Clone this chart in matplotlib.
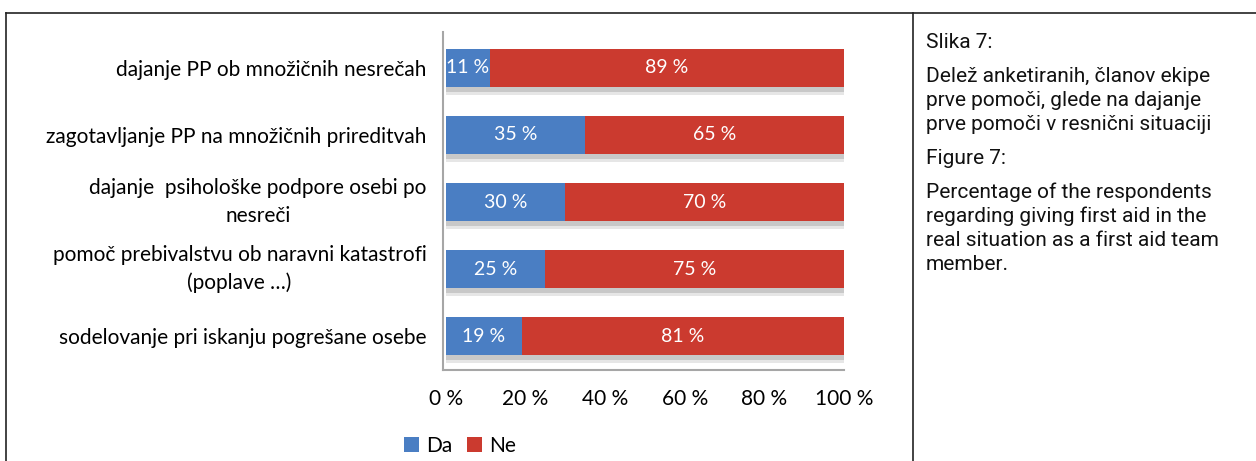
import numpy as np
import matplotlib.pyplot as plt
from matplotlib.lines import Line2D
from matplotlib.ticker import FuncFormatter

# data
categories = [
    'dajanje PP ob množičnih nesrečah',
    'zagotavljanje PP na množičnih prireditvah',
    'dajanje  psihološke podpore osebi po\nnesreči',
    'pomoč prebivalstvu ob naravni katastrofi\n(poplave …)',
    'sodelovanje pri iskanju pogrešane osebe',
]
da = [11, 35, 30, 25, 19]
ne = [89, 65, 70, 75, 81]
series_names = ['Da', 'Ne']

caption_lines = [
    ('Slika 7:', 48),
    ('Delež anketiranih, članov ekipe', 82),
    ('prve pomoči, glede na dajanje', 106),
    ('prve pomoči v resnični situaciji', 130),
    ('Figure 7:', 164),
    ('Percentage of the respondents', 198),
    ('regarding giving first aid in the', 222),
    ('real situation as a first aid team', 246),
    ('member.', 270),
]

blue = '#4A7EC3'
red = '#CB3A2F'
W, H = 1256, 461

fig = plt.figure(figsize=(W / 100, H / 100), dpi=100)
ax = fig.add_axes([443 / W, (H - 370) / H, (844 - 443) / W, (370 - 32) / H])

y = np.arange(len(categories))
bh = 0.57
# excel-like soft shadow under the bars
total = np.array(da) + np.array(ne)
ax.barh(y + 0.07, total, height=bh, color='#C8C8C8', zorder=1)
ax.barh(y + 0.12, total, height=bh, color='#E6E6E6', zorder=0)
b1 = ax.barh(y, da, height=bh, color=blue, label=series_names[0], zorder=2)
b2 = ax.barh(y, ne, left=da, height=bh, color=red, label=series_names[1], zorder=2)

for bars in (b1, b2):
    for r in bars:
        ax.text(r.get_x() + r.get_width() / 2, r.get_y() + r.get_height() / 2,
                f'{r.get_width():.0f} %', color='white', ha='center', va='center',
                fontsize=14, family='Lato', zorder=3)

ax.set_xlim(-0.75, 100)
ax.set_ylim(4.507, -0.537)
ax.set_yticks(y)
ax.set_yticklabels(categories, fontsize=15, family='Lato', linespacing=1.45)
for lbl in ax.get_yticklabels():
    lbl.set_multialignment('center')
    if '\n' in lbl.get_text():
        lbl.set_va('center')
ax.set_xticks([0, 20, 40, 60, 80, 100])
ax.xaxis.set_major_formatter(FuncFormatter(lambda v, p: f'{v:.0f} %'))
for lbl in ax.get_xticklabels():
    lbl.set_family('Lato')
    lbl.set_fontsize(15)
ax.tick_params(length=0)
ax.tick_params(axis='y', pad=12)
ax.tick_params(axis='x', pad=14)
for s in ['top', 'right']:
    ax.spines[s].set_visible(False)
for s in ['left', 'bottom']:
    ax.spines[s].set_color('#A6A6A6')
    ax.spines[s].set_linewidth(1.5)

fig.legend(handles=[b1, b2], loc='center', bbox_to_anchor=(460 / W, 1 - 446 / H),
           ncol=2, frameon=False, handlelength=0.7, handleheight=0.7,
           handletextpad=0.35, columnspacing=0.7, prop={'family': 'Lato', 'size': 15})

# frame lines
lc = '#222222'
fig.add_artist(Line2D([6 / W, 1], [1 - 13 / H, 1 - 13 / H], color=lc, lw=1.2))
fig.add_artist(Line2D([6 / W, 6 / W], [0, 1 - 13 / H], color=lc, lw=1.2))
fig.add_artist(Line2D([913 / W, 913 / W], [0, 1 - 13 / H], color=lc, lw=1.2))

for txt, yy in caption_lines:
    fig.text(926 / W, 1 - yy / H, txt, fontsize=15, family='Roboto',
             ha='left', va='baseline', color='#111111')

fig.savefig('out.png', dpi=100)
